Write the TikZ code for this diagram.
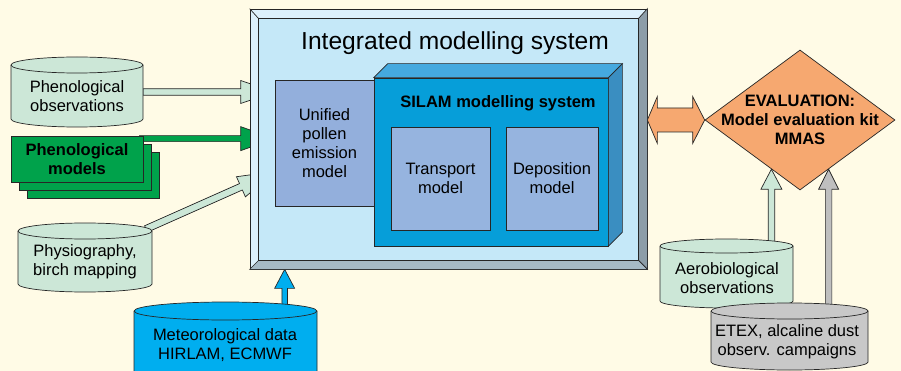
\documentclass[tikz,border=0pt]{standalone}
\usepackage{fontspec}
\setmainfont{Liberation Sans}
\usetikzlibrary{calc,shapes.geometric}
\pgfdeclarelayer{bg}
\pgfdeclarelayer{arrowlayer}
\pgfsetlayers{bg,arrowlayer,main}

\definecolor{cream}{HTML}{FFFBE6}
\definecolor{bevlight}{HTML}{DDF1FC}
\definecolor{bevright}{HTML}{8C9DA8}
\definecolor{bevbottom}{HTML}{A6BAC6}
\definecolor{face}{HTML}{C5E8F8}
\definecolor{upeblue}{HTML}{93AFDC}
\definecolor{silamfront}{HTML}{069ED9}
\definecolor{silamtop}{HTML}{45A9DF}
\definecolor{silamside}{HTML}{3A8EC1}
\definecolor{innerblue}{HTML}{96B4DF}
\definecolor{lgreen}{HTML}{CCE7D7}
\definecolor{dgreen}{HTML}{00A24B}
\definecolor{evalorange}{HTML}{F6A870}
\definecolor{etexgray}{HTML}{C8C8C8}
\definecolor{arrowgray}{HTML}{BFBFBF}
\definecolor{metblue}{HTML}{00AEEF}

\tikzset{
  edge/.style={draw=black!85, line width=0.7pt},
  lbl/.style={font=\fontsize{16.5}{19}\selectfont, align=center, inner sep=0pt},
  boldlbl/.style={font=\fontsize{16.5}{19}\selectfont\bfseries, align=center, inner sep=0pt},
  box/.style={edge, inner sep=0pt, align=center, font=\fontsize{16.5}{19}\selectfont},
}

% drum (database cylinder): name, left, right, top, bottom, y radius, fill
\newcommand\drum[7]{%
  \pgfmathsetmacro\cylRx{(#3-#2)/2}%
  \pgfmathsetmacro\cylT{#4+#6}%
  \pgfmathsetmacro\cylB{#5-#6}%
  \filldraw[edge, fill=#7] (#2,\cylT) -- (#2,\cylB)
    arc[start angle=180, end angle=360, x radius=\cylRx pt, y radius=#6pt]
    -- (#3,\cylT)
    arc[start angle=0, end angle=180, x radius=\cylRx pt, y radius=#6pt] -- cycle;
  \draw[edge] (#2,\cylT) arc[start angle=180, end angle=360, x radius=\cylRx pt, y radius=#6pt];
  \coordinate (#1 top) at ({(#2+#3)/2},\cylT);
  \coordinate (#1 east) at (#3,{(#4+#5)/2});
}

% block arrow: fill, tail, tip, half shaft width, half head width, head length
\newcommand\fatarrow[6]{%
  \coordinate (fa base) at ($(#3)!#6pt!(#2)$);
  \filldraw[edge, fill=#1]
    ($(#2)!#4pt!90:(#3)$) -- ($(fa base)!#4pt!90:(#3)$) -- ($(fa base)!#5pt!90:(#3)$)
    -- (#3)
    -- ($(fa base)!#5pt!-90:(#3)$) -- ($(fa base)!#4pt!-90:(#3)$) -- ($(#2)!#4pt!-90:(#3)$) -- cycle;
}

\begin{document}
\begin{tikzpicture}[x=1pt, y=-1pt]
\useasboundingbox (0,0) rectangle (901,371);
\begin{pgfonlayer}{bg}
  \fill[cream] (0,0) rectangle (901,371);
\end{pgfonlayer}

% ---- integrated modelling system frame ----
\node[edge, fill=bevlight, minimum width=397pt, minimum height=260pt, inner sep=0pt] (ims) at (448.5,139) {};
\filldraw[edge, fill=bevright] (ims.north east) -- (ims.south east) -- ($(ims.south east)+(-9,-9)$) -- ($(ims.north east)+(-9,10)$) -- cycle;
\filldraw[edge, fill=bevbottom] (ims.south west) -- (ims.south east) -- ($(ims.south east)+(-9,-9)$) -- ($(ims.south west)+(9,-9)$) -- cycle;
\draw[edge] (ims.north west) -- ($(ims.north west)+(9,10)$);
\filldraw[edge, fill=face] ($(ims.north west)+(9,10)$) rectangle ($(ims.south east)+(-9,-9)$);
\node[font=\fontsize{24.6}{28}\selectfont, inner sep=0pt] (title) at (455,43) {Integrated modelling system};

% unified emission model
\node[box, fill=upeblue, minimum width=99pt, minimum height=126pt] (upe) at (324.5,143) {Unified\\pollen\\emission\\model};

% SILAM block
\node[edge, fill=silamfront, minimum width=234pt, minimum height=168pt, inner sep=0pt] (silam) at (491,162) {};
\filldraw[edge, fill=silamtop] (silam.north west) -- ($(silam.north west)+(14,-14)$) -- ($(silam.north east)+(14,-14)$) -- (silam.north east) -- cycle;
\filldraw[edge, fill=silamside] (silam.north east) -- ($(silam.north east)+(14,-14)$) -- ($(silam.south east)+(14,-14)$) -- (silam.south east) -- cycle;
\node[boldlbl] (silamtitle) at (498,103) {SILAM modelling system};
\node[box, fill=innerblue, minimum width=99pt, minimum height=103pt] (transport) at (440.5,178.5) {Transport\\model};
\node[box, fill=innerblue, minimum width=92pt, minimum height=103pt] (deposition) at (552,178.5) {Deposition\\model};

% evaluation diamond
\node[diamond, edge, fill=evalorange, minimum width=190pt, minimum height=140pt, inner sep=0pt] (eval) at (800,120) {};
\node[boldlbl] (evaltext) at (800,120) {EVALUATION:\\Model evaluation kit\\MMAS};

% ---- data sources ----
\drum{phobs}{11}{143}{57}{127}{8}{lgreen}
\node[lbl] (phobstext) at (77,96) {Phenological\\observations};

\filldraw[edge, fill=dgreen] (27,152) rectangle (159,198);
\filldraw[edge, fill=dgreen] (19,144) rectangle (151,190);
\node[box, fill=dgreen, minimum width=132pt, minimum height=46pt, font=\fontsize{16.5}{19}\selectfont\bfseries] (phmod) at (77,159) {Phenological\\models};

\drum{phys}{18}{152}{223}{292}{8}{lgreen}
\node[lbl] (phystext) at (85,262) {Physiography,\\birch mapping};

\drum{met}{134}{317}{302}{392}{9}{metblue}
\node[lbl] (mettext) at (225,345) {Meteorological data\\HIRLAM, ECMWF};

\drum{aero}{660}{793}{239}{308}{7}{lgreen}
\node[lbl] (aerotext) at (727,278) {Aerobiological\\observations};

\drum{etex}{711}{868}{303}{370}{8}{etexgray}
\node[lbl] (etextext) at (787,342) {ETEX, alcaline dust\\observ. campaigns};

% ---- connectors ----
\begin{pgfonlayer}{arrowlayer}
  \coordinate (t1) at (upe.west |- phobs east);
  \fatarrow{lgreen}{phobs east}{t1}{3.25}{11.5}{34}

  \coordinate (s2) at ($(phmod.north east)+(-4,3)$);
  \coordinate (t2) at (upe.west |- s2);
  \fatarrow{dgreen}{s2}{t2}{3}{12}{34}

  \coordinate (s3) at ($(phys top)+(61,-2)$);
  \coordinate (t3) at ($(upe.south west)+(1,-35)$);
  \fatarrow{lgreen}{s3}{t3}{3.5}{11}{38}

  \coordinate (t4) at ($(ims.south west)+(35,0)$);
  \coordinate (s4) at (t4 |- met top);
  \fatarrow{metblue}{s4}{t4}{2.75}{10}{19}

  \coordinate (t5) at ($(eval.west)!0.7!(eval.south)$);
  \coordinate (s5) at (t5 |- aero top);
  \fatarrow{lgreen}{s5}{t5}{3.25}{10.5}{20}

  \coordinate (t6) at ($(eval.east)!0.7!(eval.south)$);
  \coordinate (s6) at (t6 |- etex top);
  \fatarrow{arrowgray}{s6}{t6}{3.25}{10}{20}

  % two-way link between the system and the evaluation kit
  \coordinate (dl) at (ims.east |- eval.west);
  \coordinate (dr) at (eval.west);
  \coordinate (dlb) at ($(dl)+(10,0)$);
  \coordinate (drb) at ($(dr)+(-12,0)$);
  \filldraw[edge, fill=evalorange] (dl) -- ($(dlb)+(0,-23.5)$) -- ($(dlb)+(0,-12)$) -- ($(drb)+(0,-12)$) -- ($(drb)+(0,-23.5)$) -- (dr)
    -- ($(drb)+(0,23.5)$) -- ($(drb)+(0,12)$) -- ($(dlb)+(0,12)$) -- ($(dlb)+(0,23.5)$) -- cycle;
\end{pgfonlayer}
\end{tikzpicture}
\end{document}
